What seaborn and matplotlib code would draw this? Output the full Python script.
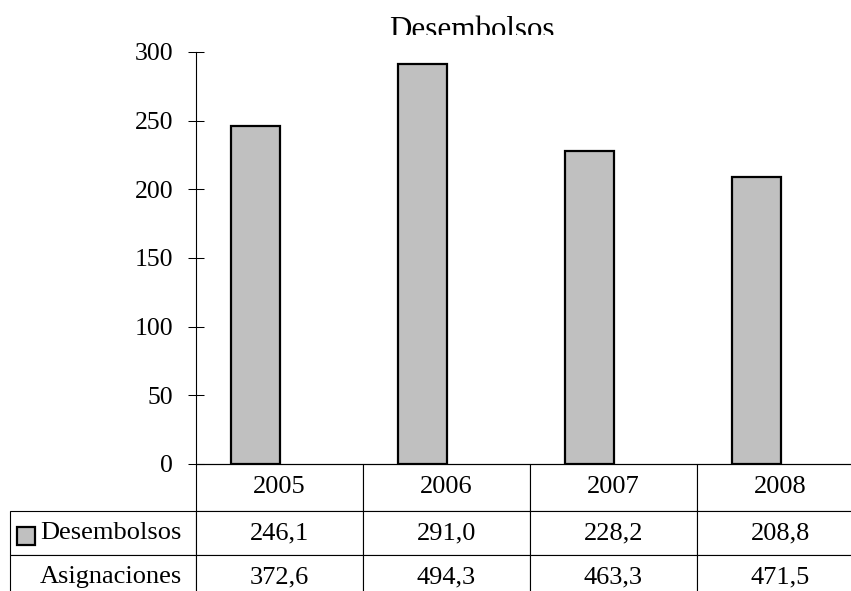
import pandas as pd
import seaborn as sns
import matplotlib.pyplot as plt
from matplotlib.table import Table
from matplotlib.transforms import Bbox, TransformedBbox

years = ['2005', '2006', '2007', '2008']
desembolsos = [246.1, 291.0, 228.2, 208.8]
asignaciones = [372.6, 494.3, 463.3, 471.5]
series_names = ['Desembolsos', 'Asignaciones']
y_ticks = [0, 50, 100, 150, 200, 250, 300]

sns.set_style('white')
plt.rcParams['font.family'] = ['Liberation Serif', 'DejaVu Serif']
plt.rcParams['text.color'] = 'black'

W, H = 851, 591
fig = plt.figure(figsize=(W / 100, H / 100), dpi=100)
# plot area runs past the right edge of the picture, like the source
ax_w, ax_h = 668, 412
ax = fig.add_axes([196 / W, (H - 464) / H, ax_w / W, ax_h / H])

df = pd.DataFrame({
    'year': years * 2,
    'serie': [series_names[0]] * len(years) + [series_names[1]] * len(years),
    'valor': desembolsos + asignaciones,
})

sns.barplot(data=df, x='year', y='valor', hue='serie', hue_order=series_names,
            palette={'Desembolsos': '#c0c0c0', 'Asignaciones': '#c0c0c0'},
            saturation=1, width=0.575, legend=False, ax=ax,
            edgecolor='black', linewidth=1.6)

# only the Desembolsos series is drawn; Asignaciones stays in the table
for bar in ax.containers[1]:
    bar.set_visible(False)

ax.set_xlim(-0.5, 3.5)
ax.set_ylim(0, 300)
ax.set_yticks(y_ticks)
ax.set_xticks([])
ax.set_xlabel('')
ax.set_ylabel('')
ax.tick_params(axis='y', direction='inout', length=11.5, width=0.75,
               pad=10.8, labelsize=18.5, colors='black', left=True)
for side in ['top', 'right']:
    ax.spines[side].set_visible(False)
for side in ['left', 'bottom']:
    ax.spines[side].set_color('black')
    ax.spines[side].set_linewidth(0.8)

# data table under the axis (sizes in axes fractions)
head_h, row_h = 47 / ax_h, 44 / ax_h
label_w, col_w = 186 / ax_w, 167 / ax_w
tbl = Table(ax, bbox=[0, -(head_h + 2 * row_h), 1, head_h + 2 * row_h])
tbl.auto_set_font_size(False)
for j, yr in enumerate(years):
    tbl.add_cell(0, j, width=col_w, height=head_h, text=yr, loc='center',
                 edgecolor='black')
rows = [desembolsos, asignaciones]
for i, (name, vals) in enumerate(zip(series_names, rows), start=1):
    c = tbl.add_cell(i, -1, width=label_w, height=row_h, text=name, loc='right',
                     edgecolor='black')
    c.PAD = 14 / 186
    for j, v in enumerate(vals):
        tbl.add_cell(i, j, width=col_w, height=row_h,
                     text=f'{v:.1f}'.replace('.', ','), loc='center',
                     edgecolor='black')
for cell in tbl.get_celld().values():
    cell.set_linewidth(0.8)
    cell.get_text().set_fontsize(19)
    cell.get_text().set_color('black')
ax.add_table(tbl)

# legend key in front of the Desembolsos row
ax.plot([-170 / ax_w], [-72 / ax_h], marker='s', markersize=12.5,
        markerfacecolor='#c0c0c0', markeredgecolor='black', markeredgewidth=1.6,
        transform=ax.transAxes, clip_on=False, linestyle='none')

title = fig.text(472 / W, 1 - 38 / H, 'Desembolsos', ha='center',
                 va='baseline', fontsize=22.3, color='black')
title.set_clip_box(TransformedBbox(Bbox([[0, 1 - 35 / H], [1, 1]]),
                                   fig.transFigure))
title.set_clip_on(True)

fig.savefig('out.png', dpi=100)
